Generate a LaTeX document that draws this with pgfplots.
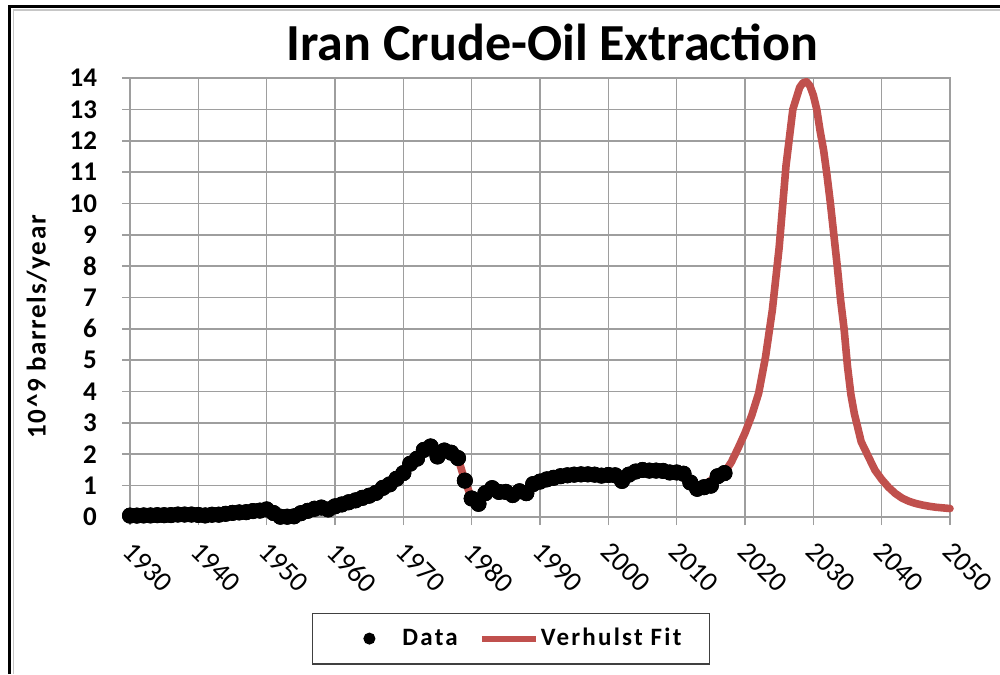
\documentclass[border=0pt]{standalone}
\usepackage{fontspec}
\setmainfont{Carlito}
\usepackage{pgfplots}
\usepackage{pgfplotstable}
\pgfplotsset{compat=1.18}
\definecolor{fitred}{RGB}{192,80,77}
\definecolor{gridgray}{RGB}{158,158,158}

\pgfplotstableread{
year val
1930 0.045
1931 0.045
1932 0.05
1933 0.05
1934 0.058
1935 0.057
1936 0.062
1937 0.078
1938 0.078
1939 0.078
1940 0.066
1941 0.05
1942 0.072
1943 0.074
1944 0.102
1945 0.131
1946 0.146
1947 0.154
1948 0.19
1949 0.204
1950 0.242
1951 0.127
1952 0.01
1953 0.009
1954 0.022
1955 0.121
1956 0.196
1957 0.263
1958 0.301
1959 0.24
1960 0.34
1961 0.40
1962 0.47
1963 0.53
1964 0.61
1965 0.68
1966 0.77
1967 0.93
1968 1.04
1969 1.22
1970 1.40
1971 1.70
1972 1.86
1973 2.14
1974 2.25
1975 1.93
1976 2.12
1977 2.05
1978 1.88
1979 1.16
1980 0.59
1981 0.42
1982 0.76
1983 0.92
1984 0.80
1985 0.80
1986 0.70
1987 0.82
1988 0.76
1989 1.05
1990 1.13
1991 1.20
1992 1.25
1993 1.30
1994 1.33
1995 1.35
1996 1.36
1997 1.36
1998 1.35
1999 1.32
2000 1.34
2001 1.33
2002 1.15
2003 1.35
2004 1.45
2005 1.50
2006 1.48
2007 1.48
2008 1.47
2009 1.42
2010 1.42
2011 1.38
2012 1.10
2013 0.90
2014 0.95
2015 1.00
2016 1.30
2017 1.40
}\datatable

\pgfplotstableread{
year val
1930 0.045
1935 0.057
1940 0.066
1945 0.131
1950 0.242
1951 0.127
1952 0.01
1953 0.009
1954 0.022
1955 0.121
1958 0.301
1960 0.34
1965 0.68
1970 1.40
1973 2.14
1974 2.25
1975 1.93
1976 2.12
1977 2.05
1978 1.88
1979 1.16
1980 0.59
1981 0.42
1983 0.92
1986 0.70
1988 0.76
1990 1.13
1995 1.35
2000 1.34
2002 1.15
2005 1.50
2010 1.42
2013 0.90
2016 1.30
2017 1.42
2018 1.75
2019 2.2
2020 2.68
2021 3.25
2022 3.95
2023 5.1
2024 6.6
2025 8.6
2026 11.2
2027 13.0
2028 13.7
2028.5 13.85
2029 13.88
2029.5 13.75
2030 13.45
2030.5 13.0
2031 12.3
2031.5 11.7
2032 10.9
2032.5 10.0
2033 9.0
2033.5 8.0
2034 6.9
2034.5 6.0
2035 4.8
2035.5 3.9
2036 3.3
2037 2.4
2038 1.95
2039 1.5
2040 1.2
2041 0.95
2042 0.75
2043 0.6
2044 0.5
2045 0.43
2046 0.38
2047 0.34
2048 0.31
2049 0.29
2050 0.27
}\fittable

\begin{document}
\begin{tikzpicture}
\path[use as bounding box] (0pt,0pt) rectangle (500pt,337pt);
\draw[black, line width=1.2pt] (4.75pt,0pt) -- (4.75pt,333.8pt) -- (500pt,333.8pt);
\draw[gray!45, line width=0.7pt] (6.6pt,0pt) -- (6.6pt,332pt) -- (500pt,332pt);
\begin{axis}[
  at={(65pt,78.5pt)}, anchor=south west,
  scale only axis, width=410pt, height=219.5pt,
  xmin=1930, xmax=2050, ymin=0, ymax=14,
  xtick={1930,1940,...,2050}, ytick={0,1,...,14},
  xtick pos=left, ytick pos=left,
  grid=major, major grid style={gridgray, line width=0.8pt},
  axis line style={gridgray, line width=0.8pt},
  tick style={gridgray, line width=0.8pt},
  tick align=outside, major tick length=4pt,
  /pgf/number format/assume math mode=true,
  /pgf/number format/1000 sep={},
  x tick label style={xshift=2pt, yshift=-3pt, rotate=-45, anchor=north west, font=\fontsize{14}{14}\selectfont},
  yticklabel={\pgfmathprintnumber{\tick}\hspace*{9pt}},
  y tick label style={font=\bfseries\fontsize{13.5}{13.5}\selectfont},
  title={Iran Crude-Oil Extraction},
  title style={at={(axis description cs:0.515,1.053)}, anchor=center, font=\bfseries\fontsize{26}{26}\selectfont},
  ylabel={10\textasciicircum9 barrels/year},
  ylabel style={at={(axis description cs:-0.112,0.433)}, anchor=center, font=\bfseries\fontsize{13.5}{13.5}\selectfont\addfontfeatures{LetterSpace=6}},
  legend columns=2,
  legend style={at={(axis description cs:0.4646,-0.277)}, anchor=center,
    draw=black!75, line width=0.8pt, font=\bfseries\fontsize{12.5}{12.5}\selectfont\addfontfeatures{LetterSpace=9},
    inner xsep=14pt, inner ysep=5.5pt,
    nodes={inner xsep=0pt},
    /tikz/every even column/.append style={column sep=0pt}},
  clip=false,
]
\addplot[only marks, mark=*, mark size=3.8pt, black,
  legend image code/.code={\path[draw=none,fill=none] (0pt,0pt) -- (31pt,0pt); \fill[black] (14.5pt,0pt) circle (2.6pt);}]
  table[x=year,y=val]{\datatable};
\addlegendentry{Data}
\addplot[fitred, line width=3.8pt, line join=round, line cap=round,
  legend image code/.code={\path[draw=none,fill=none] (0pt,0pt) -- (41.5pt,0pt); \draw[fitred, line width=3pt, line cap=butt] (12pt,0pt) -- (39pt,0pt);}]
  table[x=year,y=val]{\fittable};
\addlegendentry{Verhulst Fit}
\addplot[only marks, mark=*, mark size=3.8pt, black, forget plot]
  table[x=year,y=val]{\datatable};
\end{axis}
\end{tikzpicture}
\end{document}
